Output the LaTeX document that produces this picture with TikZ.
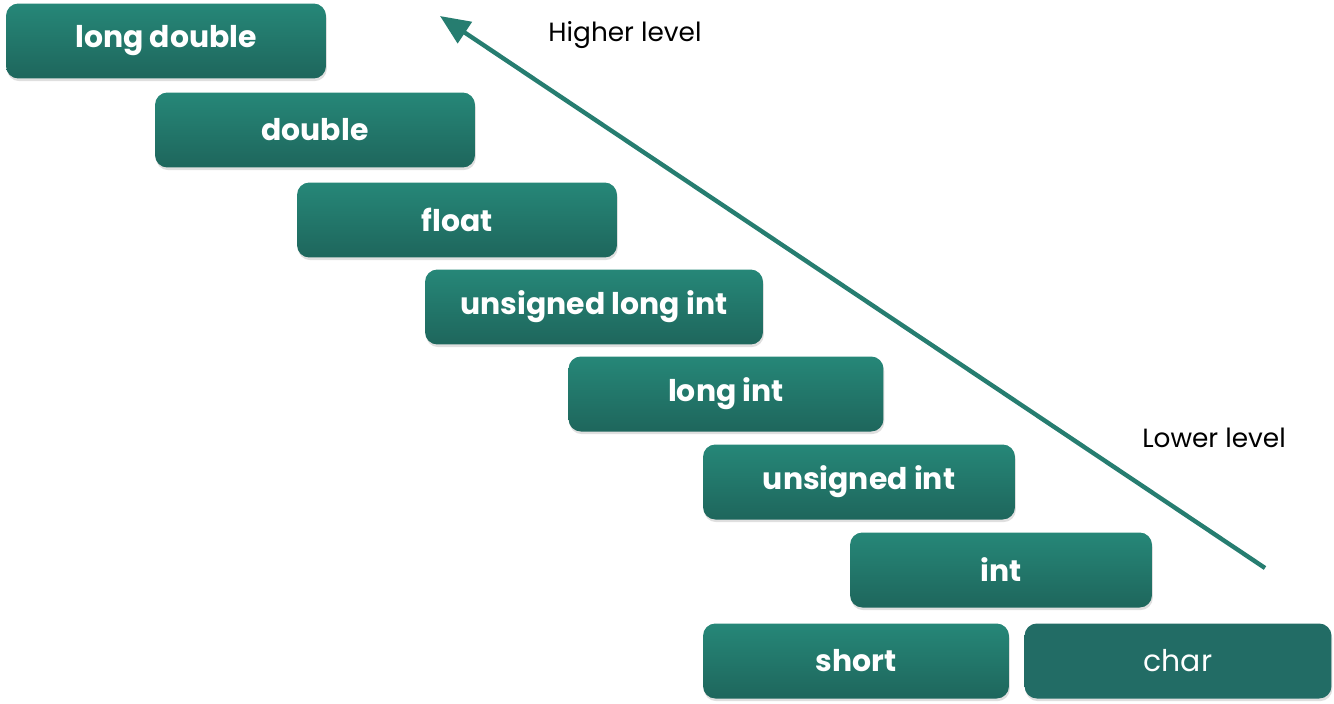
\documentclass[tikz,border=0pt]{standalone}
\usepackage{fontspec}
\setmainfont{Poppins}
\usetikzlibrary{arrows.meta, positioning, shadows}
\definecolor{StepTop}{RGB}{38, 135, 120}
\definecolor{StepBot}{RGB}{30, 102, 92}
\definecolor{CharFill}{RGB}{34, 108, 101}
\definecolor{ArrowTeal}{RGB}{38, 125, 112}
\begin{document}
\begin{tikzpicture}[x=0.02cm, y=-0.02cm,
        typebox/.style={rectangle, rounded corners=7pt, top color=StepTop, bottom color=StepBot, draw=none,
            minimum height=1.5cm, text=white, font=\fontsize{17}{20}\selectfont\bfseries,
            drop shadow={shadow xshift=0.5pt, shadow yshift=-1.5pt, opacity=0.25}},
        level/.style={font=\fontsize{15}{18}\selectfont, text=black},
        arrow/.style={-{Triangle[length=6mm, width=5mm]}, line width=2.5pt, ArrowTeal}
    ]
        \useasboundingbox (0,0) rectangle (1334,703);

        % Ladder of types
        \node[typebox, minimum width=6.4cm] (ldouble) at (166, 41) {long double};
        \node[typebox, minimum width=6.4cm] (double) at (315, 130) {double};
        \node[typebox, minimum width=6.4cm] (float) at (457, 220) {float};
        \node[typebox, minimum width=6.76cm] (ulint) at (594, 307) {unsigned long int};
        \node[typebox, minimum width=6.3cm] (lint) at (726, 394) {long int};
        \node[typebox, minimum width=6.24cm] (uint) at (859, 482) {unsigned int};
        \node[typebox, minimum width=6.04cm] (int) at (1001, 570) {int};
        \node[typebox, minimum width=6.12cm] (short) at (856, 661) {short};
        \node[typebox, minimum width=6.14cm, top color=CharFill, bottom color=CharFill,
            font=\fontsize{17}{20}\selectfont] (char) at (1178, 661) {char};

        % Direction of conversion
        \coordinate (low) at (1265, 568);
        \coordinate (high) at (440, 16);
        \draw[arrow] (low) -- (high);
        \node[level] (hl) at (625, 35) {Higher level};
        \node[level] (ll) at (1214, 438) {Lower level};
\end{tikzpicture}
\end{document}
